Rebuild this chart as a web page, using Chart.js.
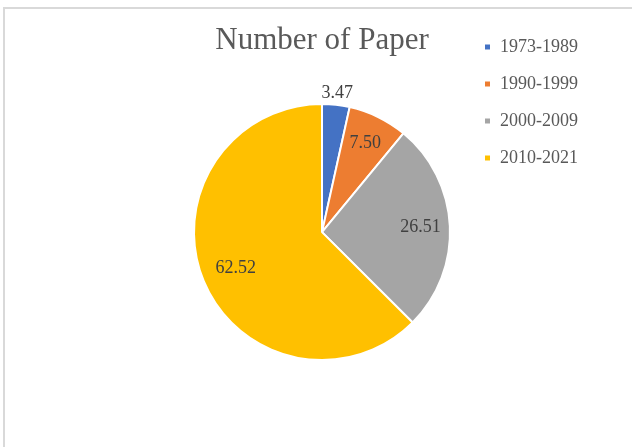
<!DOCTYPE html>
<html>
<head>
<meta charset="utf-8">
<script src="https://cdn.jsdelivr.net/npm/chart.js@4/dist/chart.umd.min.js"></script>
<style>
  html, body { margin: 0; padding: 0; background: #ffffff; }
  #wrap { position: relative; width: 632px; height: 447px; overflow: hidden; }
  #frame {
    position: absolute; left: 3px; top: 7px; width: 700px; height: 500px;
    border-left: 2px solid #d9d9d9; border-top: 2px solid #d9d9d9;
    box-sizing: border-box;
  }
  canvas { position: absolute; left: 0; top: 0; }
</style>
</head>
<body>
<div id="wrap">
  <div id="frame"></div>
  <canvas id="chart" width="632" height="447"></canvas>
</div>
<script>
// Share of papers by publication period (%)
const periods = ['1973-1989', '1990-1999', '2000-2009', '2010-2021'];
const paperShare = [3.47, 7.50, 26.51, 62.52];
const sliceColors = ['#4472C4', '#ED7D31', '#A5A5A5', '#FFC000'];
const chartTitle = 'Number of Paper';

const serif = "'Liberation Serif', 'DejaVu Serif', serif";

// Writes each slice's value on the slice, or just outside it when the slice is thin
const sliceValueLabels = {
  id: 'sliceValueLabels',
  afterDatasetsDraw(chart) {
    const ctx = chart.ctx;
    const meta = chart.getDatasetMeta(0);
    const values = chart.data.datasets[0].data;
    const total = values.reduce((a, b) => a + b, 0);
    ctx.save();
    ctx.font = '18px ' + serif;
    ctx.fillStyle = '#404040';
    ctx.textAlign = 'center';
    ctx.textBaseline = 'middle';
    meta.data.forEach((arc, i) => {
      const p = arc.getProps(['x', 'y', 'startAngle', 'endAngle', 'outerRadius'], true);
      const mid = (p.startAngle + p.endAngle) / 2;
      const share = values[i] / total;
      let dist;
      if (share < 0.05) dist = p.outerRadius + 12;
      else if (share > 0.5) dist = p.outerRadius * 0.73;
      else dist = p.outerRadius * 0.77;
      const x = p.x + Math.cos(mid) * dist;
      const y = p.y + Math.sin(mid) * dist;
      ctx.fillText(values[i].toFixed(2), x, y);
    });
    ctx.restore();
  }
};

new Chart(document.getElementById('chart'), {
  type: 'pie',
  data: {
    labels: periods,
    datasets: [{
      data: paperShare,
      backgroundColor: sliceColors,
      borderColor: '#ffffff',
      borderWidth: 2
    }]
  },
  options: {
    responsive: false,
    animation: false,
    radius: 128,
    layout: { padding: { left: 179, right: 44, top: 19, bottom: 53 } },
    plugins: {
      title: {
        display: true,
        text: chartTitle,
        fullSize: false,
        color: '#595959',
        font: { family: serif, size: 31, weight: 'normal' },
        padding: { top: 3, bottom: 11 }
      },
      legend: {
        position: 'right',
        align: 'start',
        labels: {
          color: '#595959',
          font: { family: serif, size: 18 },
          boxWidth: 7,
          boxHeight: 7,
          padding: 19
        }
      },
      tooltip: { enabled: false }
    }
  },
  plugins: [sliceValueLabels]
});
</script>
</body>
</html>
